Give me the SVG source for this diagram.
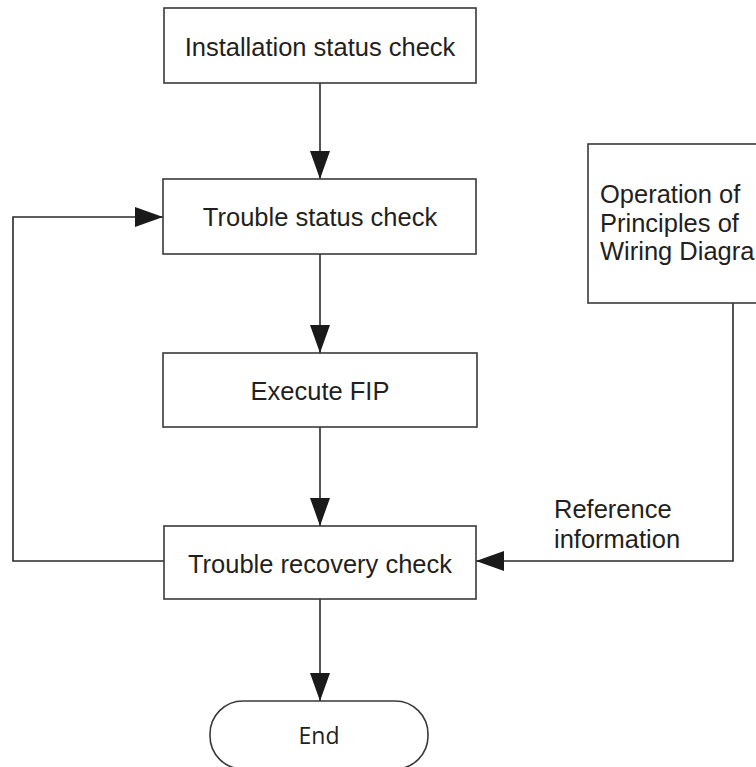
<svg xmlns="http://www.w3.org/2000/svg" width="756" height="767" viewBox="0 0 756 767">
<defs>
<style>
.box{fill:#fff;stroke:#3a3a3a;stroke-width:1.6}
.ln{fill:none;stroke:#2a2a2a;stroke-width:1.6}
.t{font-family:"Liberation Sans",Arial,sans-serif;font-size:25.5px;fill:#231f20}
.tc{text-anchor:middle}
.end{font-family:"Open Sans","Noto Sans",sans-serif;font-size:23px;fill:#231f20;text-anchor:middle}
</style>
<marker id="ah" viewBox="0 0 28 20" refX="28" refY="10" markerWidth="28" markerHeight="20" markerUnits="userSpaceOnUse" orient="auto">
<path d="M0,0 L28,10 L0,20 Z" fill="#1a1a1a"/>
</marker>
</defs>
<rect width="756" height="767" fill="#fff"/>
<g id="connectors">
<line class="ln" x1="320" y1="83" x2="320" y2="179" marker-end="url(#ah)"/>
<line class="ln" x1="320" y1="254" x2="320" y2="353" marker-end="url(#ah)"/>
<line class="ln" x1="320" y1="427" x2="320" y2="526" marker-end="url(#ah)"/>
<line class="ln" x1="320" y1="599" x2="320" y2="701" marker-end="url(#ah)"/>
<polyline class="ln" points="164,561 13,561 13,217 163,217" marker-end="url(#ah)"/>
<polyline class="ln" points="733,303 733,561 476,561" marker-end="url(#ah)"/>
<text class="t" x="554" y="518">Reference</text>
<text class="t" x="554" y="548">information</text>
</g>
<g id="installation">
<rect class="box" x="164" y="8" width="312" height="75"/>
<text class="t tc" x="320" y="56">Installation status check</text>
</g>
<g id="trouble-status">
<rect class="box" x="163" y="179" width="313" height="75"/>
<text class="t tc" x="320" y="226">Trouble status check</text>
</g>
<g id="execute-fip">
<rect class="box" x="163" y="353" width="314" height="74"/>
<text class="t tc" x="320" y="400">Execute FIP</text>
</g>
<g id="trouble-recovery">
<rect class="box" x="164" y="526" width="312" height="73"/>
<text class="t tc" x="320" y="573">Trouble recovery check</text>
</g>
<g id="reference-docs">
<rect class="box" x="588" y="144" width="200" height="159"/>
<text class="t" x="600" y="203">Operation of</text>
<text class="t" x="600" y="232">Principles of</text>
<text class="t" x="600" y="260">Wiring Diagram</text>
</g>
<g id="end">
<rect class="box" x="210" y="701" width="218" height="68" rx="33" ry="33"/>
<text class="end" x="319" y="744">End</text>
</g>
</svg>
